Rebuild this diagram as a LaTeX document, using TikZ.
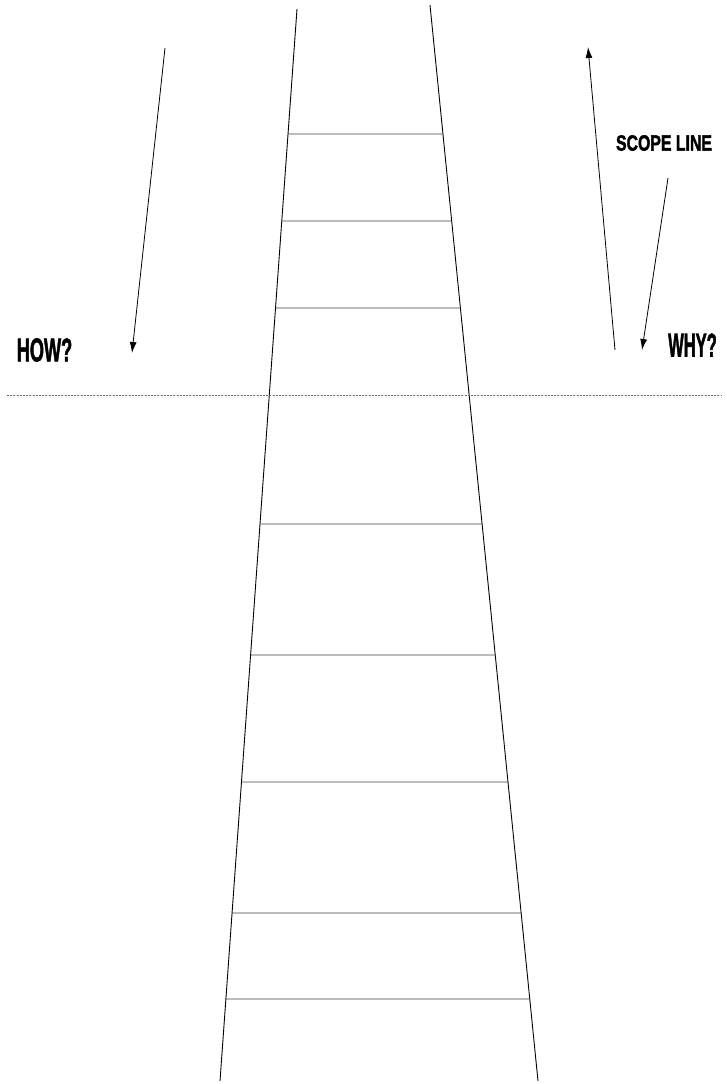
\documentclass[tikz,border=0pt]{standalone}
\usepackage{fontspec}
\setmainfont{Liberation Sans}
\newfontfamily\heavyfont[FakeBold=2.2]{Liberation Sans Bold}
\usetikzlibrary{calc,arrows.meta}
\tikzset{
  rail/.style={line width=0.9pt, black},
  rung/.style={line width=0.7pt, black!75},
  dotline/.style={line width=0.6pt, black!60, dash pattern=on 2pt off 1.2pt},
  arr/.style={line width=0.8pt, black, -{Latex[length=11pt,width=7pt]}},
  bigtxt/.style={inner sep=0pt, font=\heavyfont\fontsize{33}{33}\selectfont},
  midtxt/.style={inner sep=0pt, font=\heavyfont\fontsize{22}{22}\selectfont},
}
\begin{document}
\begin{tikzpicture}[x=1pt,y=-1pt]
\useasboundingbox (0,0) rectangle (727,1084);
% rails
\coordinate (LT) at (297,9);
\coordinate (LB) at (220,1081);
\coordinate (RT) at (430,5);
\coordinate (RB) at (538,1081);
\draw[rail] (LT) -- (LB);
\draw[rail] (RT) -- (RB);
% rungs
\foreach \y [count=\i] in {134,221,308,524,655,782,913,999}{
  \coordinate (rl\i) at ($(LT)!{(\y-9)/1072}!(LB)$);
  \coordinate (rr\i) at ($(RT)!{(\y-5)/1076}!(RB)$);
  \draw[rung] (rl\i) -- (rr\i);
}
% scope line (dotted)
\coordinate (dl) at (7,395);
\coordinate (dr) at (721,395);
\draw[dotline] (dl) -- (dr);
% labels
\node[bigtxt] (how) at (44.5,350) {\scalebox{0.55}[1]{HOW?}};
\node[bigtxt] (why) at (692.5,345) {\scalebox{0.5}[1]{WHY?}};
\node[midtxt] (scope) at (664,143) {\scalebox{0.72}[1]{SCOPE LINE}};
% arrows
\coordinate (howS) at (165,48);
\coordinate (howE) at (132,353);
\draw[arr] (howS) -- (howE);
\coordinate (whyS) at (615,350);
\coordinate (whyE) at (588,47);
\draw[arr] (whyS) -- (whyE);
\coordinate (scS) at (668,178);
\coordinate (scE) at (642,350);
\draw[arr] (scS) -- (scE);
\end{tikzpicture}
\end{document}
